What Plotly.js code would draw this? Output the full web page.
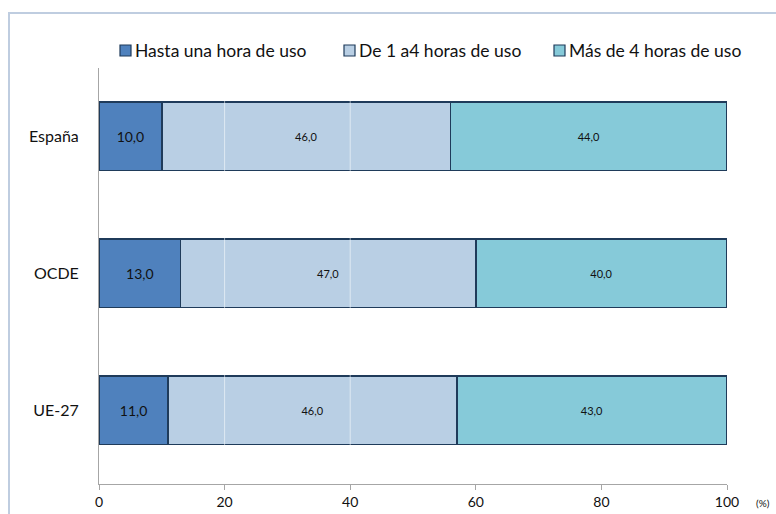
<!DOCTYPE html>
<html><head><meta charset="utf-8">
<script src="https://cdn.plot.ly/plotly-3.0.1.min.js"></script>
<style>
html,body{margin:0;padding:0;background:#fff;}
#frame{position:absolute;left:8px;top:12px;width:800px;height:600px;border-left:2px solid #BFCDE0;border-top:2px solid #BFCDE0;}
#chart{position:absolute;left:0;top:0;width:776px;height:514px;}
</style></head>
<body>
<div id="frame"></div>
<div id="chart"></div>
<script>
const categories = ["España", "OCDE", "UE-27"];
const seriesNames = ["Hasta una hora de uso", "De 1 a4 horas de uso", "Más de 4 horas de uso"];
const hastaUnaHora = [10.0, 13.0, 11.0];
const de1a4Horas = [46.0, 47.0, 46.0];
const masDe4Horas = [44.0, 40.0, 43.0];
const xTicks = [0, 20, 40, 60, 80, 100];

const colors = ["#4F81BD", "#B9CFE4", "#86CAD9"];
const font = "Lato, 'Open Sans', sans-serif";

// plot geometry (pixels)
const W = 776, H = 514, L = 99, R = 49, T = 68, B = 30;
const pw = W - L - R, ph = H - T - B;
const px2x = p => (p - L) / pw;
const py2y = p => (H - B - p) / ph;

function mk(name, vals, color, size) {
  return {
    type: "bar", orientation: "h", name: name,
    y: categories, x: vals,
    marker: {color: color, line: {color: "#1F3B5A", width: 1.5}},
    text: vals, texttemplate: "%{x:.1f}", textposition: "inside",
    insidetextanchor: "middle", textangle: 0, constraintext: "none",
    textfont: {family: font, size: size, color: "#111"},
    width: 0.5, hoverinfo: "skip", showlegend: false
  };
}

const data = [
  mk(seriesNames[0], hastaUnaHora, colors[0], 14),
  mk(seriesNames[1], de1a4Horas, colors[1], 11),
  mk(seriesNames[2], masDe4Horas, colors[2], 11)
];

// custom legend (square immediately followed by text)
const legendPx = [120, 344, 554];
const legendShapes = legendPx.map((p, i) => ({
  type: "rect", xref: "paper", yref: "paper",
  x0: px2x(p), x1: px2x(p + 11), y0: py2y(56), y1: py2y(45),
  fillcolor: colors[i], line: {color: "#1F3B5A", width: 1.2}, layer: "above"
}));
const legendAnn = legendPx.map((p, i) => ({
  text: seriesNames[i], xref: "paper", yref: "paper",
  x: px2x(p + 13), y: py2y(50.5), xanchor: "left", yanchor: "middle",
  showarrow: false, font: {family: font, size: 17.5, color: "#111"}
}));

const layout = {
  width: W, height: H,
  paper_bgcolor: "rgba(0,0,0,0)", plot_bgcolor: "rgba(0,0,0,0)",
  separators: ",.",
  barmode: "stack",
  margin: {l: L, r: R, t: T, b: B},
  font: {family: font, color: "#111"},
  showlegend: false,
  xaxis: {range: [0, 100], tickvals: xTicks, ticktext: xTicks.map(String),
          showgrid: false, zeroline: false, showline: true, linecolor: "#A6A6A6", linewidth: 1,
          ticks: "outside", ticklen: 5, tickcolor: "#A6A6A6",
          tickfont: {family: font, size: 14, color: "#111"}, fixedrange: true},
  yaxis: {range: [2.54, -0.5], showline: true, linecolor: "#A6A6A6", linewidth: 1,
          showgrid: false, zeroline: false, ticks: "", ticklabelstandoff: 16,
          tickfont: {family: font, size: 16, color: "#111"}, fixedrange: true},
  shapes: [20, 40].map(v => ({type: "line", xref: "x", yref: "paper", x0: v, x1: v, y0: 0, y1: 1,
          line: {color: "rgba(255,255,255,0.55)", width: 1}, layer: "above"})).concat(legendShapes),
  annotations: [{text: "(%)", xref: "paper", yref: "paper", x: px2x(754), y: py2y(503),
                 xanchor: "left", yanchor: "middle", showarrow: false,
                 font: {family: font, size: 10, color: "#111"}}].concat(legendAnn)
};

Plotly.newPlot("chart", data, layout, {displayModeBar: false, staticPlot: true});
</script>
</body></html>
